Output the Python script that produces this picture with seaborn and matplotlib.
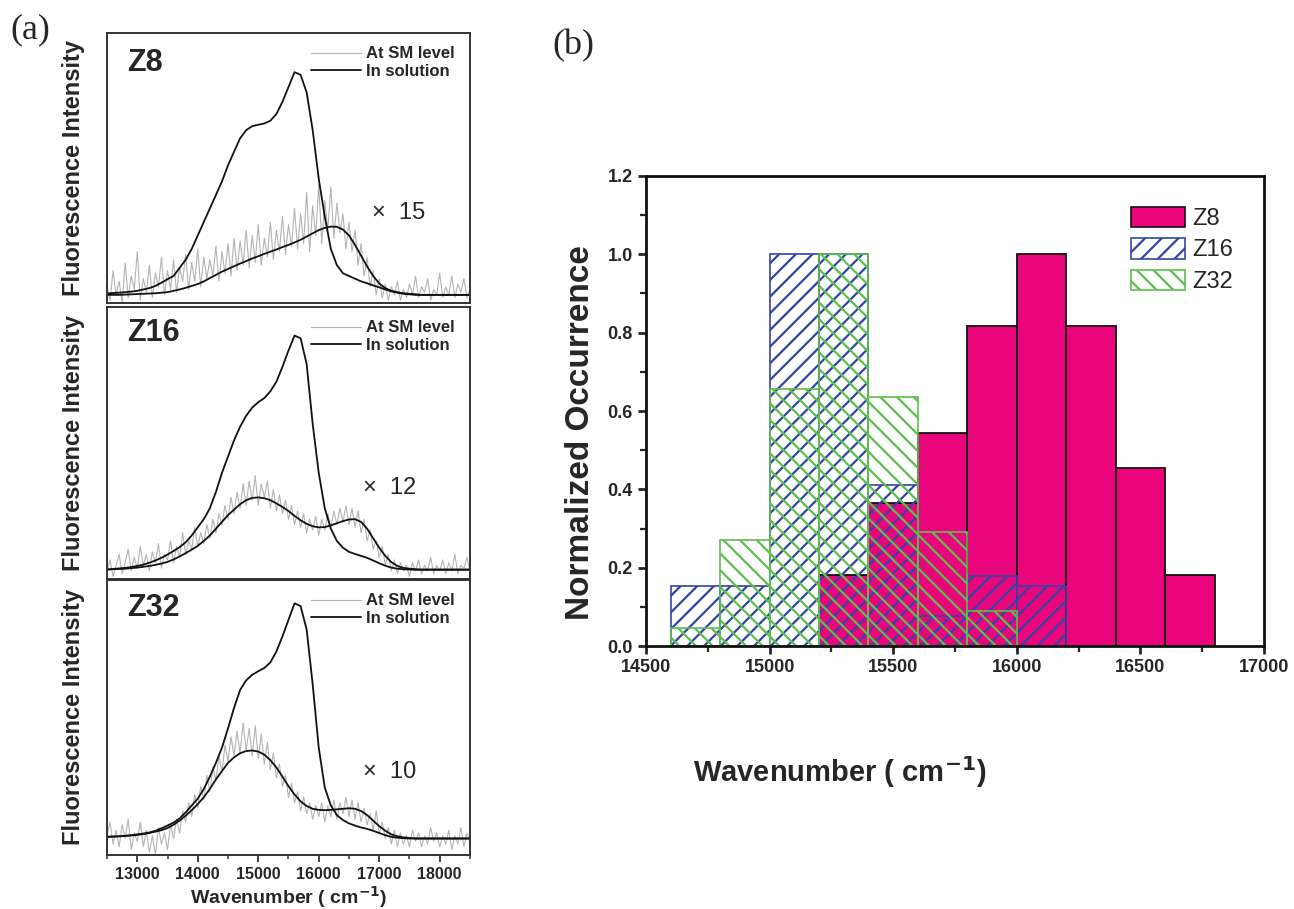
import numpy as np
import matplotlib
matplotlib.use("Agg")
import matplotlib.pyplot as plt
import seaborn as sns
from matplotlib.patches import Patch
from matplotlib.ticker import MultipleLocator, FormatStrFormatter

# ---------------- data: panel (a) spectra (intensity in panel units) ----------------
# black curves sampled every 100 cm-1, grey single-molecule traces every 50 cm-1
WN = np.arange(12500, 18501, 100)
WN_FINE = np.arange(12500, 18501, 50)

sol_z8 = [0.035, 0.037, 0.038, 0.040, 0.042, 0.045, 0.050, 0.055, 0.063, 0.075,
          0.088, 0.100, 0.130, 0.160, 0.200, 0.250, 0.300, 0.350, 0.400, 0.450,
          0.510, 0.560, 0.610, 0.640, 0.655, 0.660, 0.665, 0.675, 0.700, 0.745,
          0.800, 0.855, 0.845, 0.780, 0.640, 0.460, 0.320, 0.200, 0.140, 0.110,
          0.100, 0.090, 0.080, 0.073, 0.065, 0.058, 0.050, 0.043, 0.038, 0.034,
          0.032, 0.030, 0.030, 0.030, 0.030, 0.030, 0.030, 0.030, 0.030, 0.030,
          0.030]
fit_z8 = [0.030, 0.030, 0.030, 0.031, 0.032, 0.033, 0.034, 0.035, 0.036, 0.038,
          0.040, 0.045, 0.050, 0.056, 0.063, 0.070, 0.080, 0.092, 0.104, 0.116,
          0.126, 0.136, 0.146, 0.155, 0.165, 0.173, 0.182, 0.190, 0.198, 0.207,
          0.215, 0.224, 0.234, 0.246, 0.258, 0.270, 0.278, 0.283, 0.282, 0.272,
          0.250, 0.215, 0.175, 0.135, 0.100, 0.072, 0.055, 0.045, 0.040, 0.036,
          0.034, 0.032, 0.030, 0.030, 0.030, 0.030, 0.030, 0.030, 0.030, 0.030,
          0.030]
sm_z8 = [0.06, 0.01, 0.12, 0.03, 0.08, 0.00, 0.15, 0.02, 0.10, 0.05,
         0.19, 0.01, 0.09, 0.04, 0.14, 0.02, 0.11, 0.06, 0.17, 0.03,
         0.12, 0.05, 0.16, 0.04, 0.13, 0.08, 0.18, 0.05, 0.15, 0.08,
         0.20, 0.06, 0.17, 0.09, 0.16, 0.10, 0.21, 0.08, 0.19, 0.11,
         0.22, 0.10, 0.24, 0.12, 0.23, 0.14, 0.27, 0.13, 0.25, 0.15,
         0.29, 0.14, 0.24, 0.17, 0.30, 0.16, 0.27, 0.19, 0.32, 0.18,
         0.29, 0.21, 0.35, 0.20, 0.33, 0.22, 0.41, 0.19, 0.36, 0.25,
         0.44, 0.22, 0.38, 0.27, 0.43, 0.24, 0.37, 0.26, 0.33, 0.20,
         0.30, 0.19, 0.27, 0.14, 0.22, 0.10, 0.17, 0.06, 0.12, 0.03,
         0.09, 0.02, 0.07, 0.01, 0.06, 0.03, 0.08, 0.01, 0.05, 0.02,
         0.07, 0.03, 0.10, 0.02, 0.06, 0.04, 0.09, 0.01, 0.05, 0.03,
         0.11, 0.02, 0.06, 0.03, 0.10, 0.02, 0.07, 0.04, 0.09, 0.02,
         0.05]

sol_z16 = [0.035, 0.037, 0.039, 0.041, 0.044, 0.048, 0.053, 0.060, 0.068, 0.078,
           0.090, 0.103, 0.117, 0.135, 0.160, 0.190, 0.220, 0.260, 0.320, 0.390,
           0.450, 0.510, 0.560, 0.600, 0.630, 0.650, 0.665, 0.690, 0.725, 0.780,
           0.840, 0.895, 0.885, 0.790, 0.570, 0.390, 0.260, 0.185, 0.140, 0.115,
           0.100, 0.092, 0.085, 0.078, 0.068, 0.058, 0.049, 0.042, 0.038, 0.036,
           0.035, 0.034, 0.034, 0.034, 0.034, 0.034, 0.034, 0.034, 0.034, 0.034,
           0.034]
fit_z16 = [0.035, 0.036, 0.037, 0.038, 0.040, 0.042, 0.045, 0.048, 0.052, 0.057,
           0.063, 0.072, 0.083, 0.095, 0.108, 0.122, 0.140, 0.160, 0.185, 0.210,
           0.235, 0.255, 0.275, 0.290, 0.298, 0.300, 0.297, 0.290, 0.278, 0.265,
           0.250, 0.232, 0.216, 0.203, 0.194, 0.190, 0.191, 0.197, 0.205, 0.213,
           0.219, 0.220, 0.210, 0.185, 0.150, 0.115, 0.085, 0.062, 0.048, 0.041,
           0.038, 0.036, 0.035, 0.035, 0.035, 0.035, 0.035, 0.035, 0.035, 0.035,
           0.035]
sm_z16 = [0.03, 0.07, 0.01, 0.05, 0.09, 0.02, 0.06, 0.11, 0.03, 0.08,
          0.04, 0.12, 0.05, 0.09, 0.03, 0.10, 0.06, 0.13, 0.04, 0.09,
          0.07, 0.14, 0.06, 0.12, 0.08, 0.17, 0.09, 0.14, 0.11, 0.19,
          0.12, 0.17, 0.13, 0.20, 0.15, 0.22, 0.17, 0.24, 0.20, 0.27,
          0.22, 0.30, 0.24, 0.32, 0.26, 0.35, 0.27, 0.36, 0.29, 0.38,
          0.27, 0.35, 0.30, 0.36, 0.26, 0.33, 0.25, 0.31, 0.24, 0.29,
          0.22, 0.27, 0.20, 0.25, 0.19, 0.24, 0.17, 0.22, 0.18, 0.23,
          0.16, 0.22, 0.18, 0.24, 0.19, 0.25, 0.20, 0.26, 0.21, 0.27,
          0.20, 0.26, 0.19, 0.25, 0.17, 0.22, 0.14, 0.18, 0.11, 0.14,
          0.08, 0.12, 0.05, 0.09, 0.03, 0.07, 0.02, 0.06, 0.03, 0.05,
          0.01, 0.06, 0.03, 0.07, 0.02, 0.05, 0.03, 0.08, 0.02, 0.05,
          0.03, 0.07, 0.02, 0.06, 0.03, 0.09, 0.02, 0.05, 0.04, 0.08,
          0.03]

sol_z32 = [0.066, 0.067, 0.068, 0.070, 0.072, 0.075, 0.078, 0.082, 0.088, 0.097,
           0.107, 0.118, 0.133, 0.155, 0.180, 0.205, 0.240, 0.285, 0.335, 0.390,
           0.460, 0.535, 0.600, 0.635, 0.655, 0.668, 0.680, 0.700, 0.740, 0.795,
           0.855, 0.915, 0.905, 0.820, 0.620, 0.390, 0.245, 0.180, 0.145, 0.127,
           0.115, 0.107, 0.100, 0.095, 0.088, 0.080, 0.072, 0.066, 0.063, 0.061,
           0.060, 0.060, 0.060, 0.060, 0.060, 0.060, 0.060, 0.060, 0.060, 0.060,
           0.060]
fit_z32 = [0.066, 0.067, 0.068, 0.069, 0.071, 0.073, 0.076, 0.080, 0.085, 0.090,
           0.098, 0.110, 0.125, 0.143, 0.163, 0.185, 0.210, 0.240, 0.275, 0.305,
           0.335, 0.355, 0.370, 0.378, 0.380, 0.376, 0.365, 0.345, 0.318, 0.285,
           0.250, 0.220, 0.195, 0.178, 0.168, 0.164, 0.163, 0.164, 0.166, 0.168,
           0.170, 0.168, 0.160, 0.145, 0.125, 0.105, 0.088, 0.075, 0.068, 0.064,
           0.062, 0.060, 0.060, 0.060, 0.060, 0.060, 0.060, 0.060, 0.060, 0.060,
           0.060]
sm_z32 = [0.07, 0.12, 0.04, 0.09, 0.03, 0.11, 0.06, 0.13, 0.02, 0.08,
          0.05, 0.12, 0.03, 0.09, 0.01, 0.07, 0.00, 0.10, 0.04, 0.08,
          0.02, 0.11, 0.06, 0.13, 0.08, 0.16, 0.12, 0.19, 0.14, 0.22,
          0.17, 0.25, 0.20, 0.29, 0.23, 0.32, 0.27, 0.36, 0.30, 0.40,
          0.34, 0.43, 0.36, 0.45, 0.37, 0.48, 0.38, 0.46, 0.36, 0.47,
          0.35, 0.44, 0.33, 0.41, 0.31, 0.37, 0.28, 0.33, 0.25, 0.29,
          0.21, 0.26, 0.19, 0.23, 0.16, 0.21, 0.15, 0.19, 0.13, 0.18,
          0.14, 0.19, 0.12, 0.18, 0.14, 0.20, 0.13, 0.19, 0.15, 0.21,
          0.14, 0.20, 0.13, 0.19, 0.12, 0.17, 0.11, 0.15, 0.09, 0.16,
          0.08, 0.12, 0.06, 0.10, 0.04, 0.09, 0.03, 0.08, 0.04, 0.07,
          0.03, 0.09, 0.05, 0.08, 0.03, 0.07, 0.04, 0.10, 0.05, 0.08,
          0.03, 0.07, 0.04, 0.09, 0.02, 0.07, 0.04, 0.10, 0.03, 0.08,
          0.05]

spec_names = ["Z8", "Z16", "Z32"]
spec_factors = ["\u00d7  15", "\u00d7  12", "\u00d7  10"]

# ---------------- data: panel (b) histogram ----------------
bin_edges = [14600, 14800, 15000, 15200, 15400, 15600, 15800, 16000, 16200, 16400, 16600, 16800]
bin_centers = [14700, 14900, 15100, 15300, 15500, 15700, 15900, 16100, 16300, 16500, 16700]
occ_z8 = [0.0, 0.0, 0.0, 0.182, 0.364, 0.545, 0.818, 1.0, 0.818, 0.455, 0.182]
occ_z16 = [0.154, 0.154, 1.0, 1.0, 0.41, 0.077, 0.18, 0.154, 0.0, 0.0, 0.0]
occ_z32 = [0.045, 0.27, 0.655, 1.0, 0.636, 0.29, 0.09, 0.0, 0.0, 0.0, 0.0]

PINK = "#EA057C"
BLUE = "#3444A6"
GREEN = "#5DBE4E"

sns.set_style("ticks")
plt.rcParams["font.family"] = ["Liberation Sans", "DejaVu Sans"]
plt.rcParams["hatch.linewidth"] = 1.6

fig = plt.figure(figsize=(12.94, 9.09), dpi=100)

# ---------------- panel (a) ----------------
a_left, a_width = 0.0827, 0.2805
a_boxes = [(0.6667, 0.2970), (0.3630, 0.2993), (0.0594, 0.3026)]
spectra = [(sm_z8, sol_z8, fit_z8), (sm_z16, sol_z16, fit_z16), (sm_z32, sol_z32, fit_z32)]
text_y = [0.89, 0.904, 0.898]
fac_y = [0.333, 0.335, 0.30]
fac_x = [0.73, 0.705, 0.705]

for i, (bottom, height) in enumerate(a_boxes):
    ax = fig.add_axes([a_left, bottom, a_width, height])
    sm, sol, fit = spectra[i]
    sns.lineplot(x=WN_FINE, y=sm, ax=ax, color="#b4b4b4", linewidth=0.8, label="At SM level")
    sns.lineplot(x=WN, y=sol, ax=ax, color="#111111", linewidth=1.3, label="In solution")
    sns.lineplot(x=WN, y=fit, ax=ax, color="#111111", linewidth=1.3, label="_nolegend_")
    ax.set_xlim(12500, 18500)
    ax.set_ylim(0, 1)
    ax.set_yticks([])
    ax.set_ylabel("Fluorescence Intensity", fontsize=17, fontweight="bold", labelpad=16)
    for sp in ax.spines.values():
        sp.set_linewidth(1.4)
        sp.set_color("#333333")
    ax.text(0.055, text_y[i], spec_names[i], transform=ax.transAxes, fontsize=22,
            fontweight="bold", va="center", ha="left")
    ax.text(fac_x[i], fac_y[i], spec_factors[i], transform=ax.transAxes, fontsize=17,
            va="center", ha="left")
    ax.legend(loc="upper right", bbox_to_anchor=(0.975, 0.975), frameon=False,
              prop={"weight": "bold", "size": 12}, handlelength=3.0, handletextpad=0.3,
              labelspacing=0.15, borderaxespad=0)
    if i < 2:
        ax.set_xticks([])
        ax.set_xlabel("")
    else:
        ax.xaxis.set_major_locator(MultipleLocator(1000))
        ax.xaxis.set_minor_locator(MultipleLocator(500))
        ax.tick_params(axis="x", which="major", length=5, width=1.3, labelsize=11.5, color="#333333")
        ax.tick_params(axis="x", which="minor", length=3, width=1.1, color="#333333")
        for lab in ax.get_xticklabels():
            lab.set_fontweight("bold")
        ax.set_xlabel("Wavenumber ( cm$^{\\mathbf{-1}}$)", fontsize=14, fontweight="bold", labelpad=2)

fig.text(0.008, 0.967, "(a)", fontsize=26, family="Liberation Serif", va="center", ha="left")
fig.text(0.427, 0.950, "(b)", fontsize=26, family="Liberation Serif", va="center", ha="left")

# ---------------- panel (b) ----------------
axb = fig.add_axes([0.4992, 0.2893, 0.4776, 0.5171])
sns.histplot(x=bin_centers, weights=occ_z8, bins=bin_edges, ax=axb, color=PINK, alpha=1,
             edgecolor="#111111", linewidth=1.3)
sns.histplot(x=bin_centers, weights=occ_z16, bins=bin_edges, ax=axb, color=BLUE, fill=False,
             hatch="//", linewidth=1.2)
sns.histplot(x=bin_centers, weights=occ_z32, bins=bin_edges, ax=axb, color=GREEN, fill=False,
             hatch="\\\\", linewidth=1.2)
axb.set_xlim(14500, 17000)
axb.set_ylim(0, 1.2)
axb.xaxis.set_major_locator(MultipleLocator(500))
axb.xaxis.set_minor_locator(MultipleLocator(250))
axb.yaxis.set_major_locator(MultipleLocator(0.2))
axb.yaxis.set_minor_locator(MultipleLocator(0.1))
axb.yaxis.set_major_formatter(FormatStrFormatter("%.1f"))
axb.tick_params(which="major", length=6, width=2, labelsize=13, direction="out")
axb.tick_params(which="minor", length=4, width=1.6, direction="out")
for lab in axb.get_xticklabels() + axb.get_yticklabels():
    lab.set_fontweight("bold")
for sp in axb.spines.values():
    sp.set_linewidth(2)
    sp.set_color("#111111")
axb.set_ylabel("Normalized Occurrence", fontsize=24, fontweight="bold", labelpad=8, y=0.455)
axb.set_xlabel("Wavenumber ( cm$^{\\mathbf{-1}}$)", fontsize=21, fontweight="bold", labelpad=56, x=0.314)

handles = [Patch(facecolor=PINK, edgecolor="#111111", linewidth=1.2),
           Patch(facecolor="white", edgecolor=BLUE, hatch="//", linewidth=1.2),
           Patch(facecolor="white", edgecolor=GREEN, hatch="\\\\", linewidth=1.2)]
axb.legend(handles, ["Z8", "Z16", "Z32"], loc="upper right", bbox_to_anchor=(0.965, 0.955),
           frameon=False, fontsize=17, handlelength=2.3, handleheight=0.95,
           handletextpad=0.3, labelspacing=0.35, borderaxespad=0)

fig.savefig("out.png", dpi=100)
